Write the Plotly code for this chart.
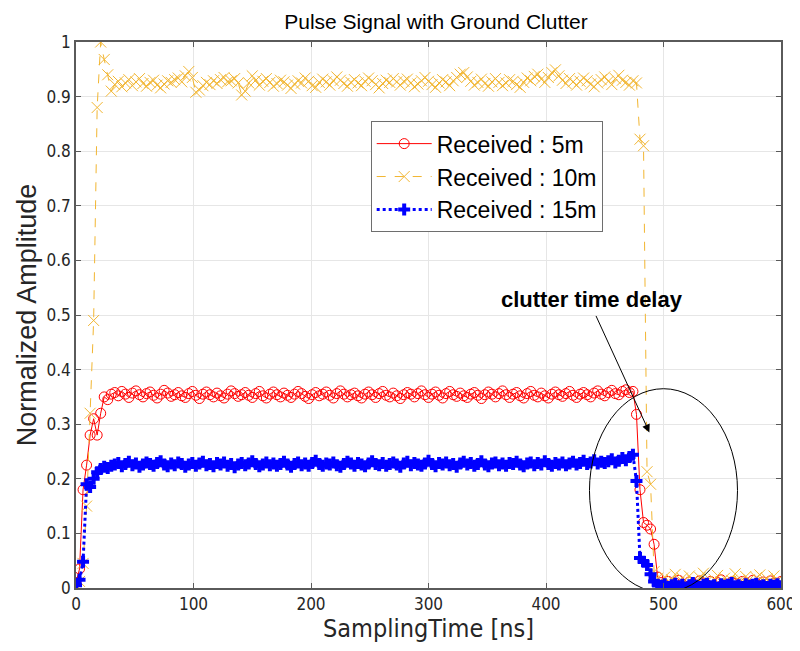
import plotly.graph_objects as go

# Sampling times (ns)
time_ns = list(range(0, 601, 3))

# Received : 5m
red_rise = [0.010, 0.035, 0.180, 0.225, 0.280, 0.310, 0.280, 0.320, 0.350, 0.345, 0.355]
red_plateau = [
    0.358, 0.352, 0.360, 0.355, 0.349, 0.357, 0.361, 0.354, 0.350, 0.356,
    0.359, 0.353, 0.348, 0.355, 0.362, 0.357, 0.351, 0.354, 0.358, 0.352,
    0.349, 0.356, 0.360, 0.353, 0.347, 0.355, 0.359, 0.354, 0.350, 0.357,
    0.352, 0.348, 0.355, 0.361, 0.356, 0.351, 0.354, 0.358, 0.353, 0.349,
    0.356, 0.360, 0.352, 0.348, 0.355, 0.359, 0.354, 0.350, 0.357, 0.353,
    0.349, 0.355, 0.360, 0.356, 0.351, 0.347, 0.354, 0.358, 0.352, 0.355,
    0.359, 0.353, 0.348, 0.356, 0.361, 0.355, 0.350, 0.354, 0.357, 0.352,
    0.348, 0.355, 0.359, 0.354, 0.349, 0.356, 0.360, 0.353, 0.350, 0.357,
    0.352, 0.347, 0.354, 0.358, 0.355, 0.350, 0.356, 0.361, 0.354, 0.349,
    0.355, 0.359, 0.353, 0.348, 0.356, 0.360, 0.354, 0.351, 0.357, 0.352,
    0.349, 0.355, 0.358, 0.353, 0.347, 0.354, 0.359, 0.355, 0.350, 0.356,
    0.361, 0.354, 0.349, 0.355, 0.358, 0.352, 0.348, 0.356, 0.360, 0.353,
    0.350, 0.357, 0.352, 0.348, 0.355, 0.359, 0.354, 0.351, 0.356, 0.360,
    0.353, 0.349, 0.355, 0.358, 0.354, 0.350, 0.357, 0.361, 0.355, 0.352,
    0.358, 0.362, 0.356, 0.354, 0.360, 0.363, 0.358, 0.360,
]
red_fall = [0.318, 0.180, 0.120, 0.115, 0.108, 0.080, 0.020]
red_floor = [
    0.010, 0.006, 0.012, 0.004, 0.009, 0.014, 0.007, 0.003, 0.011, 0.008,
    0.005, 0.013, 0.009, 0.006, 0.012, 0.004, 0.010, 0.015, 0.007, 0.005,
    0.011, 0.008, 0.003, 0.012, 0.009, 0.006, 0.014, 0.008, 0.004, 0.011,
    0.007, 0.013, 0.009, 0.005, 0.012,
]

# Received : 10m
yel_rise = [0.005, 0.012, 0.045, 0.150, 0.320, 0.490, 0.880, 1.000, 0.968, 0.940, 0.910]
yel_plateau = [
    0.922, 0.928, 0.918, 0.925, 0.931, 0.920, 0.927, 0.933, 0.924, 0.919,
    0.926, 0.930, 0.921, 0.916, 0.923, 0.929, 0.926, 0.931, 0.934, 0.927,
    0.938, 0.946, 0.935, 0.908, 0.912, 0.920, 0.926, 0.922, 0.929, 0.924,
    0.931, 0.935, 0.927, 0.929, 0.933, 0.925, 0.903, 0.910, 0.925, 0.938,
    0.930, 0.921, 0.928, 0.933, 0.926, 0.919, 0.924, 0.930, 0.927, 0.921,
    0.915, 0.923, 0.929, 0.925, 0.934, 0.928, 0.920, 0.917, 0.926, 0.932,
    0.927, 0.921, 0.929, 0.936, 0.930, 0.924, 0.919, 0.926, 0.931, 0.925,
    0.920, 0.928, 0.934, 0.929, 0.922, 0.916, 0.924, 0.930, 0.926, 0.933,
    0.927, 0.921, 0.928, 0.932, 0.925, 0.918, 0.923, 0.929, 0.935, 0.928,
    0.922, 0.917, 0.925, 0.931, 0.927, 0.920, 0.929, 0.935, 0.941, 0.944,
    0.936, 0.928, 0.921, 0.926, 0.932, 0.924, 0.919, 0.927, 0.933, 0.926,
    0.920, 0.925, 0.931, 0.928, 0.922, 0.917, 0.926, 0.934, 0.929, 0.937,
    0.941, 0.932, 0.926, 0.935, 0.944, 0.949, 0.938, 0.930, 0.924, 0.933,
    0.927, 0.921, 0.928, 0.934, 0.929, 0.923, 0.918, 0.925, 0.931, 0.936,
    0.928, 0.922, 0.933, 0.939, 0.930, 0.926, 0.921, 0.929,
]
yel_fall = [0.925, 0.822, 0.810, 0.213, 0.190, 0.030, 0.018]
yel_floor = [
    0.012, 0.020, 0.008, 0.015, 0.025, 0.010, 0.018, 0.006, 0.022, 0.014,
    0.009, 0.019, 0.027, 0.012, 0.007, 0.016, 0.023, 0.011, 0.018, 0.008,
    0.014, 0.026, 0.013, 0.009, 0.021, 0.015, 0.007, 0.019, 0.024, 0.012,
    0.017, 0.009, 0.022, 0.014, 0.010,
]

# Received : 15m
blu_rise = [0.005, 0.015, 0.048, 0.190, 0.185, 0.200, 0.212, 0.218, 0.222, 0.220, 0.224]
blu_plateau = [
    0.226, 0.229, 0.223, 0.227, 0.231, 0.225, 0.228, 0.222, 0.226, 0.230,
    0.227, 0.224, 0.229, 0.232, 0.226, 0.223, 0.228, 0.225, 0.230, 0.227,
    0.222, 0.226, 0.229, 0.224, 0.228, 0.231, 0.225, 0.227, 0.223, 0.229,
    0.226, 0.230, 0.224, 0.227, 0.221, 0.226, 0.229, 0.225, 0.228, 0.232,
    0.227, 0.223, 0.226, 0.230, 0.225, 0.228, 0.224, 0.227, 0.231, 0.226,
    0.222, 0.227, 0.230, 0.225, 0.228, 0.224, 0.229, 0.233, 0.227, 0.224,
    0.228, 0.226, 0.230, 0.225, 0.222, 0.227, 0.231, 0.228, 0.224, 0.229,
    0.226, 0.223, 0.228, 0.232, 0.227, 0.225, 0.229, 0.224, 0.227, 0.230,
    0.226, 0.222, 0.228, 0.231, 0.225, 0.229, 0.226, 0.224, 0.228, 0.233,
    0.227, 0.223, 0.229, 0.226, 0.230, 0.225, 0.227, 0.222, 0.228, 0.231,
    0.226, 0.229, 0.224, 0.227, 0.232, 0.226, 0.223, 0.228, 0.230, 0.225,
    0.228, 0.224, 0.229, 0.227, 0.231, 0.226, 0.223, 0.228, 0.230, 0.225,
    0.229, 0.226, 0.232, 0.227, 0.224, 0.229, 0.226, 0.230, 0.225, 0.228,
    0.231, 0.226, 0.229, 0.233, 0.227, 0.230, 0.234, 0.228, 0.231, 0.229,
    0.232, 0.236, 0.230, 0.233, 0.238, 0.234, 0.240, 0.244,
]
blu_fall = [0.196, 0.055, 0.048, 0.042, 0.025, 0.012, 0.006]
blu_floor = [
    0.004, 0.007, 0.002, 0.005, 0.008, 0.003, 0.006, 0.001, 0.005, 0.009,
    0.004, 0.002, 0.006, 0.008, 0.003, 0.005, 0.001, 0.007, 0.004, 0.006,
    0.009, 0.003, 0.005, 0.002, 0.007, 0.004, 0.006, 0.008, 0.003, 0.005,
    0.002, 0.006, 0.004, 0.007, 0.003,
]

received_5m = red_rise + red_plateau + red_fall + red_floor
received_10m = yel_rise + yel_plateau + yel_fall + yel_floor
received_15m = blu_rise + blu_plateau + blu_fall + blu_floor

x_ticks = [0, 100, 200, 300, 400, 500, 600]
y_ticks = [0, 0.1, 0.2, 0.3, 0.4, 0.5, 0.6, 0.7, 0.8, 0.9, 1]
y_tick_text = ["0", "0.1", "0.2", "0.3", "0.4", "0.5", "0.6", "0.7", "0.8", "0.9", "1"]

NARROW = "Liberation Sans Narrow, DejaVu Sans Condensed, Arial Narrow, sans-serif"
SANS = "Liberation Sans, Arial, Helvetica, sans-serif"

fig = go.Figure()
fig.add_trace(go.Scatter(
    x=time_ns, y=received_5m, name="Received : 5m", mode="lines+markers",
    line=dict(color="#FF0000", width=1),
    marker=dict(symbol="circle-open", size=10, color="#FF0000", line=dict(width=1)),
))
fig.add_trace(go.Scatter(
    x=time_ns, y=received_10m, name="Received : 10m", mode="lines+markers",
    line=dict(color="#F2B632", width=1, dash="dash"),
    marker=dict(symbol="x-thin-open", size=11, color="#F2B632", line=dict(width=1, color="#F2B632")),
))
fig.add_trace(go.Scatter(
    x=time_ns, y=received_15m, name="Received : 15m", mode="lines+markers",
    line=dict(color="#0000FF", width=3, dash="dot"),
    marker=dict(symbol="cross", size=10, color="#0000FF"),
))

fig.add_shape(type="circle", xref="x", yref="y", x0=437, x1=563, y0=-0.008, y1=0.365,
              line=dict(color="black", width=1))

fig.add_annotation(x=488, y=0.285, ax=442, ay=0.501, xref="x", yref="y", axref="x", ayref="y",
                   text="", showarrow=True, arrowhead=2, arrowsize=1.6, arrowwidth=1, arrowcolor="black")
fig.add_annotation(x=439, y=0.529, xref="x", yref="y", text="<b>clutter time delay</b>", showarrow=False,
                   font=dict(family=SANS, size=22, color="black"))

axis_common = dict(
    showgrid=True, gridcolor="#E6E6E6", gridwidth=1,
    showline=True, linecolor="#5A5A5A", linewidth=1.5, mirror="ticks",
    ticks="inside", ticklen=5, tickcolor="#5A5A5A",
    zeroline=False, tickfont=dict(family=NARROW, size=17, color="#262626"),
    ticklabeloverflow="allow",
)

fig.update_layout(
    width=800, height=651,
    margin=dict(l=68, r=23, t=34, b=71),
    paper_bgcolor="white", plot_bgcolor="white",
    title=dict(text="Pulse Signal with Ground Clutter", x=0.535, xanchor="center", y=0.99, yanchor="top",
               font=dict(family=SANS, size=21, color="black")),
    xaxis=dict(range=[-0.01, 600.01], tickvals=x_ticks,
               title=dict(text="SamplingTime [ns]", font=dict(family=NARROW, size=25, color="#262626"), standoff=5),
               **axis_common),
    yaxis=dict(range=[0, 1], tickvals=y_ticks, ticktext=y_tick_text,
               title=dict(text="Normalized Amplitude", font=dict(family=SANS, size=27, color="#262626"), standoff=2),
               **axis_common),
    legend=dict(x=0.418, y=0.855, xanchor="left", yanchor="top",
                bgcolor="white", bordercolor="#6E6E6E", borderwidth=1,
                font=dict(family=SANS, size=23, color="black"),
                itemwidth=55, tracegroupgap=0),
    showlegend=True,
)

fig.write_html("out.html")
